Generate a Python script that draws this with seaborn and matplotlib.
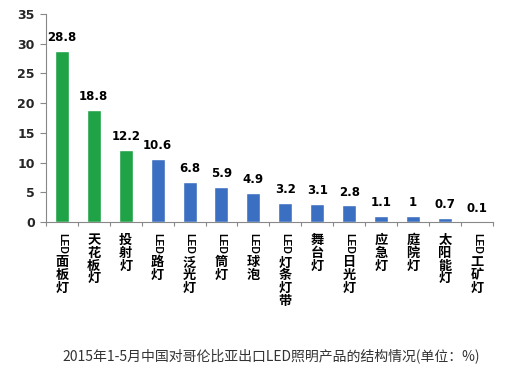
import matplotlib.pyplot as plt
import seaborn as sns
import pandas as pd
from matplotlib.transforms import blended_transform_factory

categories = ['LED面板灯', '天花板灯', '投射灯', 'LED路灯', 'LED泛光灯', 'LED筒灯', 'LED球泡',
              'LED灯条灯带', '舞台灯', 'LED日光灯', '应急灯', '庭院灯', '太阳能灯', 'LED工矿灯']
shares = [28.8, 18.8, 12.2, 10.6, 6.8, 5.9, 4.9, 3.2, 3.1, 2.8, 1.1, 1, 0.7, 0.1]
value_labels = ['28.8', '18.8', '12.2', '10.6', '6.8', '5.9', '4.9', '3.2', '3.1', '2.8', '1.1', '1', '0.7', '0.1']
bar_colors = ['#1fa346'] * 3 + ['#3b6fc2'] * 11
caption = '2015年1-5月中国对哥伦比亚出口LED照明产品的结构情况(单位：%)'

df = pd.DataFrame({'cat': categories, 'share': shares})

sns.set_style('white')
plt.rcParams['font.family'] = ['Noto Sans CJK SC', 'DejaVu Sans']

fig = plt.figure(figsize=(5.16, 3.74), dpi=100)
ax = fig.add_axes([0.089, 0.406, 0.866, 0.557])

sns.barplot(data=df, x='cat', y='share', hue='cat', palette=bar_colors,
            legend=False, width=0.44, saturation=1, ax=ax)

for container, lab in zip(ax.containers, value_labels):
    ax.bar_label(container, labels=[lab], padding=5, fontsize=8.5, color='black',
                 fontweight='bold', family=['DejaVu Sans'])

ax.set_ylim(0, 35)
ax.set_yticks(range(0, 36, 5))
ax.set_xlim(-0.5, len(categories) - 0.5)
for lbl in ax.get_yticklabels():
    lbl.set_fontweight('bold')
    lbl.set_fontsize(9)
    lbl.set_family(['DejaVu Sans'])
ax.tick_params(axis='y', length=4, width=0.8, color='#888888', direction='out', left=True, pad=4)

# boundary ticks on x axis
ax.set_xticks([i + 0.5 for i in range(-1, len(categories))])
ax.set_xticklabels([])
ax.tick_params(axis='x', length=3, width=0.8, color='#888888', direction='out', bottom=True)

for s in ['top', 'right']:
    ax.spines[s].set_visible(False)
for s in ['left', 'bottom']:
    ax.spines[s].set_color('#888888')
    ax.spines[s].set_linewidth(0.8)
ax.set_xlabel('')
ax.set_ylabel('')

# vertical category labels: "LED" rotated, Chinese stacked upright
trans = blended_transform_factory(ax.transData, ax.transAxes)
for i, name in enumerate(categories):
    offset = -8
    rest = name
    if name.startswith('LED'):
        ax.annotate('LED', xy=(i, 0), xycoords=trans, xytext=(0, offset),
                    textcoords='offset points', rotation=-90, ha='center', va='top', color='black',
                    fontsize=7.5, fontweight='bold', family=['Liberation Sans', 'DejaVu Sans'])
        offset -= 16
        rest = name[3:]
    ax.annotate('\n'.join(rest), xy=(i, 0), xycoords=trans, xytext=(0, offset),
                textcoords='offset points', ha='center', va='top', fontsize=9.5, color='black',
                fontweight='bold', linespacing=0.88)

fig.text(0.525, 0.05, caption, ha='center', va='center', fontsize=10, color='#333333')

fig.savefig('out.png', dpi=100)
